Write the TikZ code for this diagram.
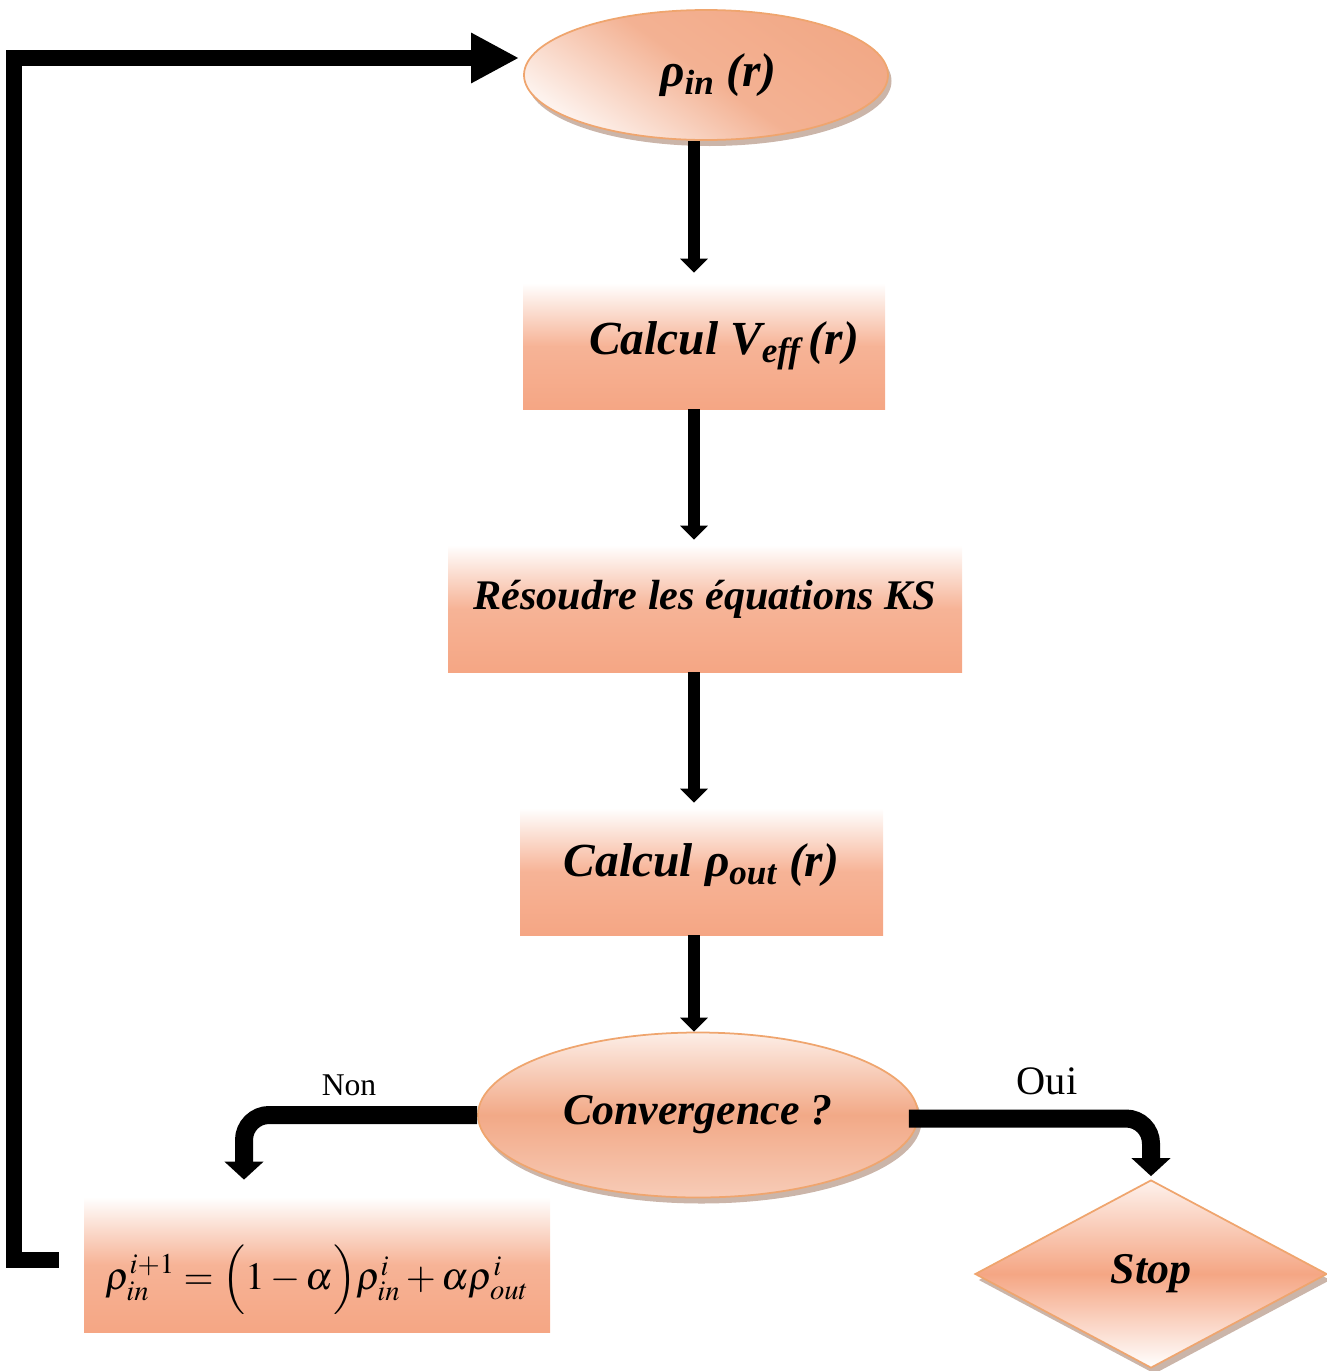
\documentclass[tikz,border=0pt]{standalone}
\usepackage{mathptmx}
\usepackage{fontspec}
\setmainfont{Liberation Serif}
\definecolor{BOXcolor}{HTML}{F5A684}
\definecolor{ELLcolor}{HTML}{F2A987}
\definecolor{EDGEcolor}{HTML}{EFA56E}
\definecolor{SHDcolor}{HTML}{A8836F}
\usetikzlibrary{shapes.geometric, arrows.meta, shadows}

\begin{document}
\begin{tikzpicture}
    \tikzset{%
        stepbox/.style={rectangle, inner sep=0pt,
                top color=white, bottom color=BOXcolor, middle color=BOXcolor!85!white,
                font=\bfseries\itshape\fontsize{27}{32}\selectfont},
        bubble/.style={ellipse, inner sep=0pt, draw=EDGEcolor, line width=1pt,
                drop shadow={shadow xshift=0.07cm, shadow yshift=-0.12cm, fill=SHDcolor, opacity=0.6},
                font=\bfseries\itshape\fontsize{27}{32}\selectfont},
        stopbox/.style={diamond, inner sep=0pt, draw=EDGEcolor, line width=1pt,
                top color=BOXcolor!15!white, bottom color=white, middle color=BOXcolor,
                drop shadow={shadow xshift=0.07cm, shadow yshift=-0.12cm, fill=SHDcolor, opacity=0.6},
                font=\bfseries\itshape\fontsize{25}{30}\selectfont},
        flow/.style={line width=0.24cm, -{Triangle[width=0.54cm, length=0.28cm]}},
        branch/.style={line width=0.36cm, rounded corners=0.5cm, -{Triangle[width=0.76cm, length=0.36cm]}},
        back/.style={line width=0.32cm, line join=miter, -{Triangle[width=0.94cm, length=0.96cm]}}
    }

    \useasboundingbox (0, 0) rectangle (26.54, -27.42);

    % steps
    \node [bubble, minimum width=7.28cm, minimum height=2.6cm,
        top color=ELLcolor, bottom color=ELLcolor!15!white, middle color=ELLcolor!90!white, shading angle=-35]
        (rhoin) at (14.12, -1.5) {\hspace*{0.5cm}ρ\textsubscript{in} (r)};
    \node [stepbox, minimum width=7.24cm, minimum height=2.52cm] (calcv) at (14.08, -6.92)
        {\hspace*{0.8cm}Calcul V\textsubscript{eff}\,(r)};
    \node [stepbox, minimum width=10.28cm, minimum height=2.54cm, font=\bfseries\itshape\fontsize{24}{28}\selectfont]
        (ks) at (14.1, -12.17) {\raisebox{0.18cm}[\height][\depth]{Résoudre les équations KS}};
    \node [stepbox, minimum width=7.26cm, minimum height=2.54cm] (calcrho) at (14.03, -17.43)
        {\raisebox{0.12cm}[\height][\depth]{Calcul ρ\textsubscript{out} (r)}};
    \node [bubble, minimum width=8.8cm, minimum height=3.3cm, font=\bfseries\itshape\fontsize{25}{30}\selectfont,
        top color=ELLcolor!20!white, bottom color=ELLcolor!60!white, middle color=ELLcolor]
        (conv) at (13.96, -22.3) {Convergence ?};
    \node [stepbox, minimum width=9.32cm, minimum height=2.7cm, font=\fontsize{22}{26}\selectfont]
        (upd) at (6.34, -25.29)
        {\raisebox{-0.5cm}[0pt][0pt]{$\rho_{in}^{i+1} = \Bigl(1-\alpha\Bigr)\rho_{in}^{i} + \alpha\rho_{out}^{i}$}};
    \node [stopbox, minimum width=7.04cm, minimum height=3.76cm] (stop) at (23.02, -25.48) {Stop};

    % labels
    \node [font=\fontsize{18}{20}\selectfont] (nonlbl) at (6.98, -21.7) {Non};
    \node [font=\fontsize{23}{26}\selectfont] (ouilbl) at (20.94, -21.62) {Oui};

    % connectors
    \coordinate (axis) at (13.88, 0);
    \coordinate (nonx) at (4.88, 0);
    \coordinate (loopx) at (0.28, 0);
    \coordinate (top) at ([xshift=-0.08cm, yshift=0.34cm]rhoin.west);
    \draw [flow] (rhoin.south -| axis) -- ([yshift=0.2cm]calcv.north -| axis);
    \draw [flow, shorten >=0.1cm] (calcv.south -| axis) -- (ks.north -| axis);
    \draw [flow, shorten >=0.1cm] (ks.south -| axis) -- (calcrho.north -| axis);
    \draw [flow] (calcrho.south -| axis) -- (conv.north -| axis);
    \draw [branch, shorten >=0.34cm] (conv.west) -| (nonx |- upd.north);
    \draw [branch, shorten >=0.06cm] ([xshift=-0.2cm, yshift=-0.07cm]conv.east) -| (stop.north);
    \draw [back] ([xshift=-0.5cm, yshift=0.09cm]upd.west) -| (loopx |- top) -- (top);
\end{tikzpicture}
\end{document}
